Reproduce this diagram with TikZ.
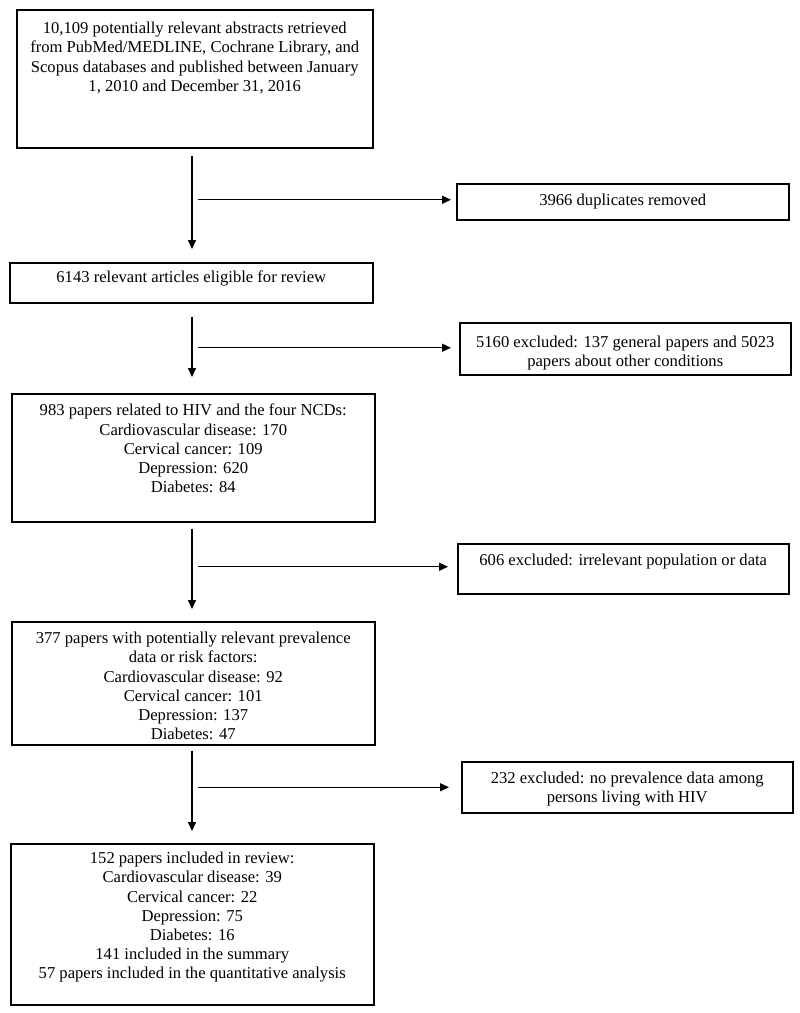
\documentclass[tikz,border=0pt]{standalone}
\usepackage{fontspec}
\setmainfont{Liberation Serif}
\usetikzlibrary{arrows.meta}
\begin{document}
\begin{tikzpicture}[x=1pt,y=-1pt,
  box/.style={draw, line width=1.5pt, rectangle, inner sep=0pt, anchor=north west},
  txt/.style={inner sep=0pt, align=center, font=\fontsize{16.6}{19.2}\selectfont},
  arr/.style={line width=1.4pt, -{Triangle[length=9pt,width=8pt]}}]
\useasboundingbox (0,0) rectangle (800,1013);
% main boxes
\node[box, minimum width=356pt, minimum height=138pt] (b1) at (16,9) {};
\node[box, minimum width=363pt, minimum height=40pt] (b2) at (9,262) {};
\node[box, minimum width=363pt, minimum height=128pt] (b3) at (11,393) {};
\node[box, minimum width=363pt, minimum height=123pt] (b4) at (11,621) {};
\node[box, minimum width=363pt, minimum height=161pt] (b5) at (10,843) {};
% side boxes
\node[box, minimum width=332pt, minimum height=36pt] (s1) at (456,183) {};
\node[box, minimum width=331pt, minimum height=52pt] (s2) at (459,322) {};
\node[box, minimum width=331pt, minimum height=50pt] (s3) at (457,543) {};
\node[box, minimum width=331pt, minimum height=51pt] (s4) at (461,761) {};
% texts
\node[txt, anchor=north] (t1) at ([yshift=-13pt]b1.north) {10,109 potentially relevant abstracts retrieved\\from PubMed/MEDLINE, Cochrane Library, and\\Scopus databases and published between January\\1, 2010 and December 31, 2016};
\node[txt] (t2) at ([yshift=4pt]b2.center) {6143 relevant articles eligible for review};
\node[txt, anchor=north] (t3) at ([yshift=-11pt]b3.north) {983 papers related to HIV and the four NCDs:\\Cardiovascular disease: 170\\Cervical cancer: 109\\Depression: 620\\Diabetes: 84};
\node[txt, anchor=north] (t4) at ([yshift=-11pt]b4.north) {377 papers with potentially relevant prevalence\\data or risk factors:\\Cardiovascular disease: 92\\Cervical cancer: 101\\Depression: 137\\Diabetes: 47};
\node[txt, anchor=north] (t5) at ([yshift=-9pt]b5.north) {152 papers included in review:\\Cardiovascular disease: 39\\Cervical cancer: 22\\Depression: 75\\Diabetes: 16\\141 included in the summary\\57 papers included in the quantitative analysis};
\node[txt] (u1) at ([yshift=0pt]s1.center) {3966 duplicates removed};
\node[txt] (u2) at ([yshift=-4pt]s2.center) {5160 excluded: 137 general papers and 5023\\papers about other conditions};
\node[txt, anchor=north] (u3) at ([yshift=-11pt]s3.north) {606 excluded: irrelevant population or data};
\node[txt] (u4) at ([yshift=-2pt]s4.center) {232 excluded: no prevalence data among\\persons living with HIV};
% connector coordinates
\coordinate (vx) at (192,0);
\coordinate (hx) at (198,0);
% vertical arrows
\draw[arr, shorten <=7pt, shorten >=13pt] (b1.south -| vx) -- (b2.north -| vx);
\draw[arr, shorten <=13pt, shorten >=16pt] (b2.south -| vx) -- (b3.north -| vx);
\draw[arr, shorten <=6pt, shorten >=12pt] (b3.south -| vx) -- (b4.north -| vx);
\draw[arr, shorten <=5pt, shorten >=12pt] (b4.south -| vx) -- (b5.north -| vx);
% horizontal arrows
\draw[arr, shorten >=5pt] ([yshift=2pt]s1.west -| hx) -- ([yshift=2pt]s1.west);
\draw[arr, shorten >=8pt] ([yshift=1pt]s2.west -| hx) -- ([yshift=1pt]s2.west);
\draw[arr, shorten >=9pt] ([yshift=2pt]s3.west -| hx) -- ([yshift=2pt]s3.west);
\draw[arr, shorten >=12pt] (s4.west -| hx) -- (s4.west);
\end{tikzpicture}
\end{document}
